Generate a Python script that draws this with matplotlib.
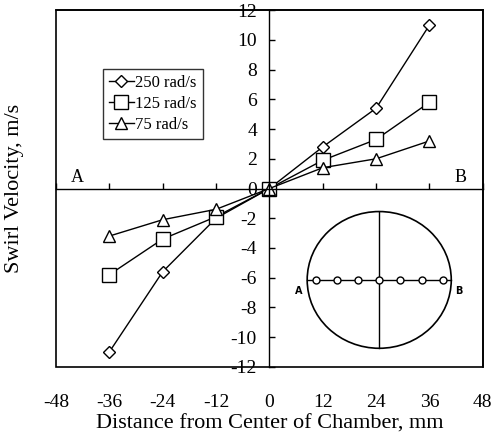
import numpy as np
import matplotlib
matplotlib.use("Agg")
import matplotlib.pyplot as plt
from matplotlib.patches import Ellipse, Rectangle

plt.rcParams['font.family'] = ['Liberation Serif', 'DejaVu Serif']

# data
distance = [-36, -24, -12, 0, 12, 24, 36]
v250 = [-11.0, -5.6, -2.0, 0.0, 2.8, 5.4, 11.0]
v125 = [-5.8, -3.4, -1.9, 0.0, 1.9, 3.3, 5.8]
v75 = [-3.2, -2.1, -1.4, 0.0, 1.4, 2.0, 3.2]
xticks = [-48, -36, -24, -12, 0, 12, 24, 36, 48]
yticks = list(range(-12, 13, 2))

fig = plt.figure(figsize=(5.04, 4.42), dpi=100)
ax = fig.add_axes([0.111, 0.170, 0.847, 0.807])

ax.plot(distance, v250, color='black', lw=1, marker='D', ms=6, mfc='white', mec='black', mew=1, label='250 rad/s')
ax.plot(distance, v125, color='black', lw=1, marker='s', ms=9.5, mfc='white', mec='black', mew=1, label='125 rad/s')
ax.plot(distance, v75, color='black', lw=1, marker='^', ms=8, mfc='white', mec='black', mew=1, label='75 rad/s')

ax.set_xlim(-48, 48)
ax.set_ylim(-12, 12)
ax.set_xticks(xticks)
ax.set_yticks(yticks)
ax.set_xticklabels([str(t) for t in xticks])
ax.set_yticklabels([str(t) for t in yticks])

# axes through the origin, box drawn separately
ax.spines['left'].set_position(('data', 0))
ax.spines['bottom'].set_position(('data', 0))
for s in ['top', 'right']:
    ax.spines[s].set_linewidth(1.2)
ax.spines['left'].set_linewidth(1)
ax.spines['bottom'].set_linewidth(1)
ax.add_patch(Rectangle((0, 0), 1, 1, transform=ax.transAxes, fill=False, lw=1.2, ec='black', clip_on=False))

ax.tick_params(axis='y', direction='in', length=4, width=1, labelsize=14, pad=9)
ax.tick_params(axis='x', direction='in', length=4, width=1, labelsize=14, pad=148)

ax.set_xlabel('Distance from Center of Chamber, mm', fontsize=16)
ax.set_ylabel('Swirl Velocity, m/s', fontsize=16)
ax.xaxis.set_label_coords(0.5, -0.135)
ax.yaxis.set_label_coords(-0.075, 0.5)

leg = ax.legend(loc='upper left', bbox_to_anchor=(0.110, 0.835), fontsize=12, frameon=True,
                fancybox=False, edgecolor='black', handlelength=1.5, handletextpad=0.1,
                borderpad=0.35, labelspacing=0.3, borderaxespad=0)
leg.get_frame().set_linewidth(1)

ax.text(-43.3, 0.2, 'A', fontsize=13, ha='center', va='bottom')
ax.text(43.0, 0.2, 'B', fontsize=13, ha='center', va='bottom')

# chamber sketch
cx, cy = 24.7, -6.15
rx, ry = 16.2, 4.6
spacing = 4.77
ax.add_patch(Ellipse((cx, cy), 2 * rx, 2 * ry, fill=False, ec='black', lw=1.2))
ax.plot([cx, cx], [cy - ry, cy + ry], color='black', lw=1)
ax.plot([cx - rx, cx + rx], [cy, cy], color='black', lw=1)
probe_x = cx + spacing * np.arange(-3, 4)
ax.plot(probe_x, np.full(7, cy), ls='none', marker='o', ms=5, mfc='white', mec='black', mew=1)
ax.text(cx - rx - 1.8, cy - 0.75, 'A', fontsize=7, fontweight='bold', family='DejaVu Sans', ha='center', va='center')
ax.text(cx + rx + 1.8, cy - 0.75, 'B', fontsize=7, fontweight='bold', family='DejaVu Sans', ha='center', va='center')

fig.savefig('out.png', dpi=100)
